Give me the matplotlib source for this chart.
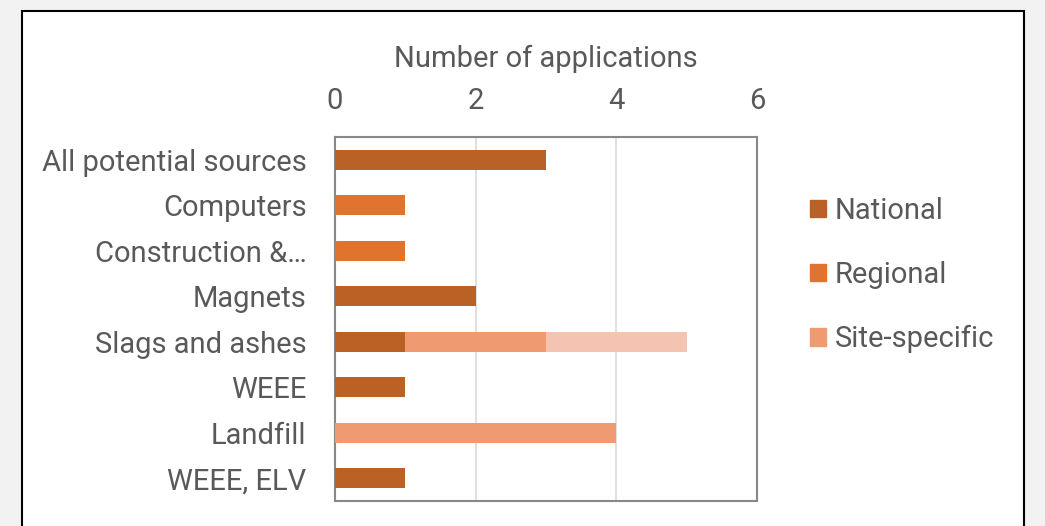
import matplotlib
matplotlib.use("Agg")
import matplotlib.pyplot as plt
from matplotlib.patches import Rectangle, Patch
import numpy as np

plt.rcParams['font.family'] = ['Roboto', 'DejaVu Sans']

categories = ["All potential sources", "Computers", "Construction &…", "Magnets",
              "Slags and ashes", "WEEE", "Landfill", "WEEE, ELV"]
national = [3, 0, 0, 2, 1, 1, 0, 1]
regional = [0, 1, 1, 0, 0, 0, 0, 0]
site_specific = [0, 0, 0, 0, 2, 0, 4, 0]
other = [0, 0, 0, 0, 2, 0, 0, 0]
xticks = [0, 2, 4, 6]

c_nat = "#BA6125"
c_reg = "#E0742F"
c_site = "#F09A72"
c_oth = "#F5C3B1"
txt = "#595959"
fs = 21

fig = plt.figure(figsize=(10.45, 5.26), dpi=100)
fig.patch.set_facecolor("#F2F2F2")
bg = Rectangle((22/1045, -0.01), (1024-22)/1045, 1.01 - 11/526,
               transform=fig.transFigure, facecolor="white",
               edgecolor="black", linewidth=1.5, zorder=-10)
fig.patches.append(bg)

ax = fig.add_axes([335/1045, 1 - 501/526, (757-335)/1045, (501-137)/526])
ax.set_zorder(5)
ax.set_facecolor("white")
y = np.arange(len(categories))
h = 0.44
left = np.zeros(len(categories))
for vals, col in [(national, c_nat), (regional, c_reg), (site_specific, c_site), (other, c_oth)]:
    v = np.array(vals, dtype=float)
    ax.barh(y, v, left=left, height=h, color=col, zorder=3)
    left += v

ax.set_ylim(len(categories) - 0.5, -0.5)
ax.set_xlim(0, 6)
ax.set_xticks(xticks)
ax.xaxis.tick_top()
ax.xaxis.set_label_position("top")
ax.set_xlabel("Number of applications", fontsize=fs, color=txt, labelpad=14.5)
ax.tick_params(axis='x', length=0, labelsize=fs, labelcolor=txt, pad=15.5)
ax.set_yticks(y)
ax.set_yticklabels(categories)
ax.tick_params(axis='y', length=0, labelsize=fs, labelcolor=txt, pad=20.5)
ax.grid(axis='x', color="#D9D9D9", linewidth=1.2, zorder=0)
for s in ax.spines.values():
    s.set_color("#888888")
    s.set_linewidth(1.5)

handles = [Patch(color=c_nat, label="National"),
           Patch(color=c_reg, label="Regional"),
           Patch(color=c_site, label="Site-specific")]
leg = fig.legend(handles=handles, loc="center left", bbox_to_anchor=(784/1045, 1 - 275/526),
                 frameon=False, fontsize=fs, labelcolor=txt, handlelength=0.55,
                 handleheight=0.55, handletextpad=0.3, labelspacing=1.24)
leg.set_zorder(6)

fig.savefig("out.png", dpi=100, facecolor=fig.get_facecolor())
